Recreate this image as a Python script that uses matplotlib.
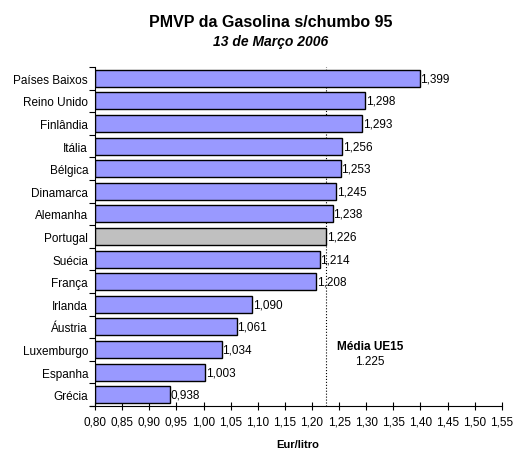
import numpy as np
import matplotlib.pyplot as plt

plt.rcParams['font.family'] = ['Liberation Sans', 'DejaVu Sans']

paises = ['Países Baixos', 'Reino Unido', 'Finlândia', 'Itália', 'Bélgica',
          'Dinamarca', 'Alemanha', 'Portugal', 'Suécia', 'França', 'Irlanda',
          'Áustria', 'Luxemburgo', 'Espanha', 'Grécia']
precos = [1.399, 1.298, 1.293, 1.256, 1.253, 1.245, 1.238, 1.226, 1.214,
          1.208, 1.090, 1.061, 1.034, 1.003, 0.938]
media_ue15 = 1.225
xticks = np.arange(0.80, 1.5501, 0.05)

fs = 8.5
fig = plt.figure(figsize=(5.15, 4.52), dpi=100)
ax = fig.add_axes([0.1845, 0.0996, 0.790, 0.750])

y = np.arange(len(paises))[::-1]
cores = ['#C0C0C0' if p == 'Portugal' else '#9999FF' for p in paises]
ax.barh(y, [p - 0.80 for p in precos], left=0.80, height=0.75,
        color=cores, edgecolor='black', linewidth=1.0, zorder=2)

for yi, p in zip(y, precos):
    ax.text(p + 0.001, yi, ('%.3f' % p).replace('.', ','), va='center',
            ha='left', fontsize=fs)

ax.axvline(media_ue15, color='black', linestyle=':', linewidth=0.8, zorder=1)
ax.text(1.307, 2.15, 'Média UE15', ha='center', va='center', fontsize=fs,
        fontweight='bold')
ax.text(1.307, 1.5, '1.225', ha='center', va='center', fontsize=fs)

ax.set_xlim(0.80, 1.55)
ax.set_ylim(-0.5, len(paises) - 0.5)
ax.set_xticks(xticks)
ax.set_xticklabels([('%.2f' % v).replace('.', ',') for v in xticks])
ax.set_yticks(y)
ax.set_yticklabels(paises)
ax.set_yticks(np.arange(-0.5, len(paises), 1.0), minor=True)
ax.tick_params(axis='y', which='major', length=0, labelsize=fs, pad=5)
ax.tick_params(axis='y', which='minor', length=4, direction='out', width=0.8)
ax.tick_params(axis='x', length=6, direction='inout', width=0.8, labelsize=fs)

for s in ['top', 'right']:
    ax.spines[s].set_visible(False)
ax.spines['bottom'].set_bounds(0.79, 1.55)
ax.spines['left'].set_linewidth(0.8)
ax.spines['bottom'].set_linewidth(0.8)

fig.text(0.578, 0.016, 'Eur/litro', ha='center', va='center', fontsize=8,
         fontweight='bold')

fig.text(0.525, 0.95, 'PMVP da Gasolina s/chumbo 95', ha='center',
         va='center', fontsize=11.5, fontweight='bold')
fig.text(0.525, 0.906, '13 de Março 2006', ha='center', va='center',
         fontsize=10, fontweight='bold', style='italic')

fig.savefig('out.png', dpi=100)
